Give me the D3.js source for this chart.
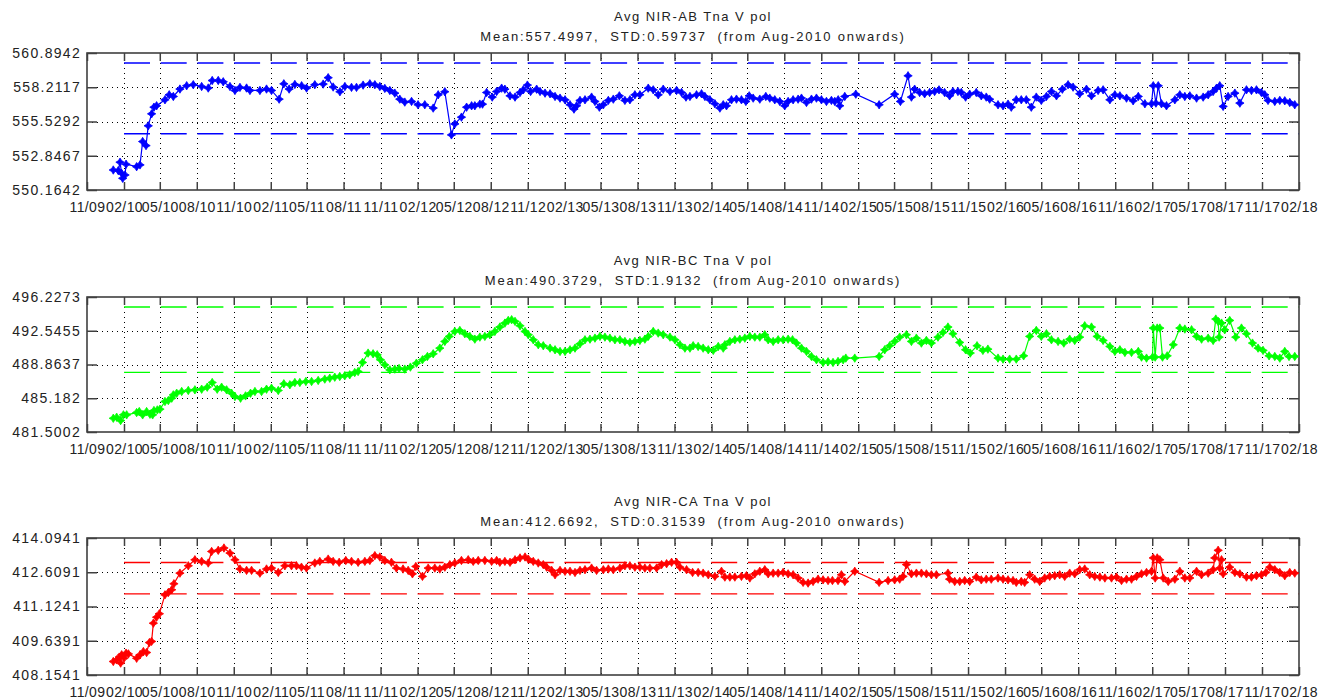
<!DOCTYPE html>
<html>
<head>
<meta charset="utf-8">
<script src="https://cdn.jsdelivr.net/npm/d3@7"></script>
<style>
  html, body { margin: 0; padding: 0; background: #fff; }
  svg { display: block; }
  text { font-family: "Liberation Sans", Arial, sans-serif; fill: #222; }
</style>
</head>
<body>
<svg id="chart" width="1336" height="700"></svg>
<script>
// ---- data (time as decimal year, value in counts) ----
const abSeries = [[2010.012,551.73],[2010.046,551.68],[2010.058,552.34],[2010.069,551.47],[2010.076,551.08],[2010.092,551.34],[2010.099,552.18],[2010.171,551.99],[2010.194,552.13],[2010.212,553.96],[2010.235,553.64],[2010.250,555.19],[2010.273,556.13],[2010.289,556.65],[2010.307,556.76],[2010.364,557.23],[2010.393,557.62],[2010.421,557.49],[2010.466,558.07],[2010.512,558.33],[2010.557,558.41],[2010.614,558.27],[2010.659,558.15],[2010.686,558.74],[2010.727,558.74],[2010.761,558.64],[2010.807,558.27],[2010.841,557.96],[2010.875,558.20],[2010.920,558.15],[2010.943,557.96],[2011.011,557.96],[2011.056,558.07],[2011.090,557.96],[2011.142,557.28],[2011.174,558.48],[2011.210,558.07],[2011.249,558.43],[2011.295,558.33],[2011.329,558.15],[2011.385,558.41],[2011.442,558.46],[2011.476,558.96],[2011.510,558.23],[2011.556,557.86],[2011.590,558.27],[2011.635,558.20],[2011.669,558.20],[2011.714,558.38],[2011.760,558.48],[2011.794,558.41],[2011.828,558.27],[2011.862,558.12],[2011.896,557.96],[2011.930,557.75],[2011.964,557.28],[2011.998,557.05],[2012.044,557.10],[2012.088,556.84],[2012.134,556.84],[2012.191,556.58],[2012.225,557.62],[2012.270,557.86],[2012.315,554.48],[2012.338,555.34],[2012.383,555.87],[2012.418,556.65],[2012.452,556.76],[2012.474,556.76],[2012.508,556.89],[2012.526,556.89],[2012.554,557.80],[2012.592,557.44],[2012.622,557.88],[2012.656,558.14],[2012.678,558.06],[2012.713,557.54],[2012.747,557.44],[2012.781,557.80],[2012.803,558.01],[2012.831,558.38],[2012.853,557.88],[2012.894,558.06],[2012.917,557.88],[2012.951,557.75],[2012.985,557.70],[2013.019,557.49],[2013.053,557.36],[2013.087,557.23],[2013.121,556.84],[2013.148,556.50],[2013.166,556.76],[2013.189,557.18],[2013.223,557.23],[2013.268,557.44],[2013.291,557.10],[2013.321,556.65],[2013.348,556.84],[2013.382,557.18],[2013.416,557.28],[2013.457,557.54],[2013.495,557.18],[2013.529,557.23],[2013.563,557.62],[2013.597,557.62],[2013.654,558.14],[2013.688,558.01],[2013.722,557.62],[2013.756,558.06],[2013.802,557.88],[2013.847,557.96],[2013.881,557.80],[2013.911,557.44],[2013.938,557.49],[2013.983,557.62],[2014.017,557.70],[2014.040,557.49],[2014.074,557.23],[2014.108,556.92],[2014.142,556.58],[2014.165,556.84],[2014.187,556.76],[2014.221,557.23],[2014.255,557.28],[2014.289,557.23],[2014.319,557.10],[2014.342,557.54],[2014.369,557.36],[2014.414,557.28],[2014.455,557.49],[2014.482,557.36],[2014.516,557.23],[2014.550,557.10],[2014.584,556.76],[2014.607,557.10],[2014.641,557.23],[2014.675,557.28],[2014.698,557.36],[2014.732,557.02],[2014.766,557.28],[2014.800,557.36],[2014.834,557.23],[2014.868,557.10],[2014.902,557.18],[2014.925,557.10],[2014.948,557.23],[2014.959,556.76],[2014.993,557.49],[2015.068,557.67],[2015.227,556.84],[2015.333,557.67],[2015.372,557.10],[2015.424,559.11],[2015.447,557.44],[2015.469,558.06],[2015.503,557.80],[2015.537,557.70],[2015.571,557.80],[2015.605,557.88],[2015.635,558.01],[2015.673,557.80],[2015.707,557.54],[2015.730,557.88],[2015.764,557.88],[2015.787,557.80],[2015.816,557.44],[2015.844,557.67],[2015.889,557.80],[2015.923,557.54],[2015.957,557.44],[2015.980,557.28],[2016.037,556.84],[2016.071,556.76],[2016.105,556.89],[2016.127,556.65],[2016.161,557.23],[2016.195,557.23],[2016.229,557.23],[2016.263,556.65],[2016.297,557.44],[2016.331,557.18],[2016.366,557.49],[2016.400,557.88],[2016.434,557.54],[2016.474,558.06],[2016.513,558.41],[2016.547,558.22],[2016.592,557.70],[2016.638,558.06],[2016.672,557.54],[2016.717,557.96],[2016.751,558.01],[2016.797,557.23],[2016.831,557.62],[2016.865,557.54],[2016.910,557.36],[2016.955,557.15],[2016.990,557.49],[2017.035,556.92],[2017.080,556.92],[2017.092,558.33],[2017.110,556.97],[2017.126,558.33],[2017.148,556.92],[2017.182,556.76],[2017.239,557.23],[2017.273,557.62],[2017.307,557.49],[2017.341,557.54],[2017.387,557.36],[2017.432,557.44],[2017.466,557.62],[2017.500,557.88],[2017.523,558.14],[2017.545,558.33],[2017.568,556.71],[2017.602,557.49],[2017.648,557.75],[2017.682,556.97],[2017.727,558.01],[2017.761,557.96],[2017.795,558.01],[2017.829,557.80],[2017.852,557.62],[2017.874,557.18],[2017.920,557.10],[2017.954,557.18],[2017.988,557.15],[2018.022,557.02],[2018.056,556.84]];

const bcSeries = [[2010.012,483.00],[2010.035,483.11],[2010.062,482.75],[2010.081,483.37],[2010.103,483.37],[2010.171,483.62],[2010.189,483.73],[2010.212,483.37],[2010.239,483.73],[2010.262,483.44],[2010.280,483.37],[2010.289,483.84],[2010.312,483.91],[2010.330,483.99],[2010.364,484.83],[2010.387,484.93],[2010.410,485.19],[2010.421,485.55],[2010.444,485.73],[2010.478,485.92],[2010.523,486.03],[2010.568,486.10],[2010.614,486.17],[2010.652,486.39],[2010.686,486.90],[2010.720,486.17],[2010.750,486.39],[2010.784,486.10],[2010.818,485.73],[2010.841,485.37],[2010.879,485.19],[2010.913,485.44],[2010.947,485.73],[2010.977,485.92],[2011.022,485.92],[2011.056,486.17],[2011.090,486.28],[2011.136,486.03],[2011.174,486.76],[2011.215,486.65],[2011.249,486.90],[2011.283,486.90],[2011.324,487.01],[2011.363,487.01],[2011.408,487.12],[2011.453,487.27],[2011.487,487.37],[2011.521,487.48],[2011.555,487.56],[2011.589,487.63],[2011.623,487.74],[2011.657,487.99],[2011.680,488.10],[2011.710,489.09],[2011.748,490.11],[2011.782,490.03],[2011.810,489.92],[2011.832,489.38],[2011.862,488.83],[2011.896,488.28],[2011.930,488.36],[2011.959,488.43],[2011.998,488.36],[2012.036,488.58],[2012.077,489.01],[2012.118,489.38],[2012.152,489.74],[2012.191,490.03],[2012.236,490.65],[2012.270,491.38],[2012.300,491.92],[2012.338,492.47],[2012.372,492.58],[2012.406,492.22],[2012.440,491.93],[2012.474,491.63],[2012.508,491.85],[2012.542,491.93],[2012.576,492.11],[2012.610,492.47],[2012.644,492.95],[2012.678,493.38],[2012.701,493.67],[2012.724,493.75],[2012.747,493.57],[2012.781,493.09],[2012.815,492.47],[2012.837,492.11],[2012.871,491.56],[2012.905,491.02],[2012.939,490.91],[2012.985,490.65],[2013.019,490.47],[2013.053,490.29],[2013.087,490.29],[2013.121,490.47],[2013.155,490.65],[2013.189,491.12],[2013.223,491.56],[2013.257,491.63],[2013.291,491.74],[2013.325,491.93],[2013.359,491.85],[2013.393,491.74],[2013.427,491.56],[2013.461,491.56],[2013.495,491.38],[2013.529,491.27],[2013.563,491.38],[2013.597,491.49],[2013.631,491.63],[2013.654,491.93],[2013.688,492.47],[2013.722,492.29],[2013.756,492.11],[2013.802,491.85],[2013.836,491.56],[2013.870,491.02],[2013.904,490.65],[2013.938,490.65],[2013.960,490.91],[2013.994,490.83],[2014.028,490.65],[2014.063,490.47],[2014.097,490.40],[2014.131,490.83],[2014.165,490.65],[2014.176,491.02],[2014.210,491.38],[2014.244,491.56],[2014.278,491.63],[2014.312,491.74],[2014.346,491.93],[2014.380,491.85],[2014.414,491.85],[2014.448,492.11],[2014.471,491.56],[2014.505,491.38],[2014.539,491.56],[2014.573,491.56],[2014.607,491.63],[2014.637,491.56],[2014.664,491.20],[2014.698,490.65],[2014.732,490.29],[2014.766,489.74],[2014.800,489.38],[2014.845,489.09],[2014.879,489.16],[2014.913,489.09],[2014.947,489.20],[2014.982,489.38],[2015.000,489.56],[2015.061,489.56],[2015.227,489.74],[2015.265,490.47],[2015.299,490.91],[2015.333,491.38],[2015.367,491.85],[2015.413,492.11],[2015.447,491.38],[2015.481,491.74],[2015.515,491.20],[2015.549,491.49],[2015.583,491.20],[2015.628,491.85],[2015.662,492.36],[2015.696,492.95],[2015.730,492.22],[2015.776,491.27],[2015.816,490.47],[2015.848,490.11],[2015.894,490.91],[2015.934,490.40],[2015.968,490.54],[2016.037,489.56],[2016.071,489.45],[2016.116,489.45],[2016.161,489.45],[2016.211,489.81],[2016.252,491.93],[2016.297,492.58],[2016.331,491.93],[2016.366,492.22],[2016.400,491.56],[2016.445,491.38],[2016.484,491.20],[2016.524,491.63],[2016.558,491.49],[2016.592,491.85],[2016.626,493.09],[2016.672,492.95],[2016.710,491.93],[2016.751,491.49],[2016.797,490.83],[2016.831,490.29],[2016.865,490.47],[2016.899,490.18],[2016.944,490.18],[2016.990,490.29],[2017.012,489.67],[2017.046,489.56],[2017.087,489.67],[2017.092,492.84],[2017.105,489.67],[2017.119,492.84],[2017.137,492.84],[2017.155,489.67],[2017.187,489.81],[2017.228,491.02],[2017.273,492.84],[2017.307,492.73],[2017.353,492.65],[2017.387,491.93],[2017.421,491.63],[2017.466,491.74],[2017.500,491.49],[2017.518,493.82],[2017.534,493.56],[2017.541,491.85],[2017.557,493.38],[2017.579,492.65],[2017.613,493.67],[2017.654,491.85],[2017.693,492.84],[2017.727,492.22],[2017.768,491.20],[2017.806,490.65],[2017.840,490.40],[2017.881,489.81],[2017.920,489.74],[2017.954,489.56],[2017.988,490.29],[2018.017,489.74],[2018.056,489.74]];

const caSeries = [[2010.012,408.74],[2010.035,408.81],[2010.053,408.93],[2010.062,408.67],[2010.069,409.03],[2010.085,408.88],[2010.099,409.10],[2010.115,409.07],[2010.171,408.88],[2010.194,409.03],[2010.217,409.17],[2010.239,409.13],[2010.258,409.56],[2010.273,409.61],[2010.285,410.40],[2010.307,410.66],[2010.326,410.81],[2010.364,411.63],[2010.387,411.73],[2010.410,411.85],[2010.425,412.11],[2010.466,412.57],[2010.523,412.89],[2010.568,413.15],[2010.614,413.08],[2010.659,413.01],[2010.682,413.51],[2010.727,413.56],[2010.766,413.66],[2010.807,413.44],[2010.841,413.15],[2010.875,412.75],[2010.920,412.69],[2010.954,412.69],[2011.011,412.57],[2011.056,412.75],[2011.090,412.79],[2011.136,412.60],[2011.181,412.89],[2011.226,412.89],[2011.260,412.89],[2011.294,412.83],[2011.328,412.79],[2011.385,413.01],[2011.419,413.08],[2011.476,413.18],[2011.510,413.08],[2011.551,413.04],[2011.596,413.12],[2011.635,413.08],[2011.680,413.04],[2011.726,413.08],[2011.760,413.12],[2011.794,413.33],[2011.828,413.27],[2011.862,413.12],[2011.907,413.04],[2011.941,412.79],[2011.986,412.75],[2012.021,412.69],[2012.050,412.54],[2012.073,412.86],[2012.118,412.43],[2012.157,412.79],[2012.202,412.79],[2012.236,412.75],[2012.270,412.83],[2012.304,412.94],[2012.338,413.01],[2012.383,413.12],[2012.429,413.15],[2012.463,413.08],[2012.497,413.12],[2012.542,413.12],[2012.588,413.08],[2012.622,413.12],[2012.644,413.04],[2012.678,413.08],[2012.713,413.04],[2012.747,413.15],[2012.781,413.23],[2012.815,413.27],[2012.837,413.18],[2012.871,413.08],[2012.905,413.01],[2012.939,412.94],[2012.962,412.83],[2012.996,412.69],[2013.019,412.50],[2013.053,412.69],[2013.087,412.65],[2013.121,412.65],[2013.155,412.60],[2013.189,412.69],[2013.223,412.72],[2013.268,412.79],[2013.302,412.69],[2013.348,412.72],[2013.382,412.75],[2013.416,412.72],[2013.461,412.79],[2013.495,412.89],[2013.529,412.89],[2013.563,412.83],[2013.597,412.83],[2013.631,412.79],[2013.665,412.79],[2013.711,412.79],[2013.745,412.94],[2013.779,412.98],[2013.813,413.04],[2013.847,413.04],[2013.870,412.83],[2013.915,412.72],[2013.956,412.60],[2013.994,412.60],[2014.028,412.57],[2014.063,412.50],[2014.108,412.43],[2014.153,412.65],[2014.176,412.40],[2014.210,412.40],[2014.244,412.40],[2014.289,412.43],[2014.323,412.46],[2014.346,412.36],[2014.380,412.54],[2014.414,412.65],[2014.448,412.72],[2014.471,412.54],[2014.505,412.57],[2014.539,412.57],[2014.573,412.60],[2014.607,412.54],[2014.641,412.50],[2014.675,412.36],[2014.709,412.17],[2014.743,412.14],[2014.777,412.21],[2014.811,412.31],[2014.845,412.28],[2014.879,412.25],[2014.909,412.25],[2014.947,412.25],[2014.970,412.50],[2014.993,412.21],[2015.061,412.65],[2015.227,412.17],[2015.288,412.25],[2015.333,412.28],[2015.367,412.31],[2015.390,412.43],[2015.413,412.94],[2015.447,412.54],[2015.481,412.57],[2015.515,412.57],[2015.549,412.54],[2015.583,412.50],[2015.617,412.50],[2015.696,412.57],[2015.707,412.31],[2015.742,412.21],[2015.776,412.21],[2015.810,412.25],[2015.844,412.21],[2015.889,412.40],[2015.923,412.28],[2015.957,412.31],[2015.991,412.31],[2016.037,412.36],[2016.071,412.31],[2016.105,412.28],[2016.139,412.25],[2016.161,412.17],[2016.195,412.21],[2016.218,412.17],[2016.252,412.50],[2016.286,412.31],[2016.320,412.21],[2016.354,412.36],[2016.388,412.43],[2016.422,412.46],[2016.456,412.50],[2016.490,412.43],[2016.524,412.57],[2016.558,412.54],[2016.592,412.72],[2016.626,412.75],[2016.660,412.50],[2016.694,412.43],[2016.729,412.40],[2016.763,412.36],[2016.808,412.36],[2016.842,412.40],[2016.876,412.25],[2016.910,412.31],[2016.944,412.31],[2016.978,412.43],[2017.012,412.54],[2017.046,412.60],[2017.080,412.65],[2017.092,413.23],[2017.105,412.36],[2017.119,413.23],[2017.137,413.15],[2017.160,412.36],[2017.194,412.21],[2017.239,412.31],[2017.273,412.65],[2017.307,412.36],[2017.341,412.36],[2017.387,412.65],[2017.421,412.50],[2017.466,412.57],[2017.500,412.72],[2017.511,413.23],[2017.534,413.56],[2017.545,412.79],[2017.557,413.15],[2017.568,412.54],[2017.613,412.83],[2017.648,412.60],[2017.682,412.54],[2017.727,412.40],[2017.761,412.40],[2017.795,412.46],[2017.829,412.50],[2017.859,412.60],[2017.886,412.83],[2017.920,412.72],[2017.954,412.60],[2017.988,412.46],[2018.022,412.60],[2018.056,412.57]];

// y tick values per panel (axis limits are first and last)
const abTicks = [550.1642, 552.8467, 555.5292, 558.2117, 560.8942];
const bcTicks = [481.5002, 485.182, 488.8637, 492.5455, 496.2273];
const caTicks = [408.1541, 409.6391, 411.1241, 412.6091, 414.0941];

// dashed control limits [lower, upper], drawn from limitFrom onwards
const abLimits = [554.57, 560.11];
const bcLimits = [488.01, 495.14];
const caLimits = [411.67, 413.03];
const limitFrom = 2010.085;

const titles = ["Avg NIR-AB Tna V pol", "Avg NIR-BC Tna V pol", "Avg NIR-CA Tna V pol"];
const subtitles = [
  "Mean:557.4997,  STD:0.59737  (from Aug-2010 onwards)",
  "Mean:490.3729,  STD:1.9132  (from Aug-2010 onwards)",
  "Mean:412.6692,  STD:0.31539  (from Aug-2010 onwards)"
];
const colors = ["#0000ff", "#00ff00", "#ff0000"];

// x range: Nov 2009 .. Feb 2018, quarterly ticks
const xStart = new Date(2009, 10, 1), xEnd = new Date(2018, 1, 1);

// ---- helpers ----
function toDate(t) {
  const y = Math.floor(t);
  const s = new Date(y, 0, 1), e = new Date(y + 1, 0, 1);
  return new Date(+s + (t - y) * (e - s));
}

const svg = d3.select("#chart");
const left = 87, right = 1299;
const tops = [53, 297, 538];
const heights = [137, 135, 137];

const x = d3.scaleTime().domain([xStart, xEnd]).range([left, right]);
const xTicks = d3.timeMonth.range(xStart, new Date(2018, 1, 2), 3);
const fmtX = d3.timeFormat("%m/%y");
const fmtY = d3.format(".7~g");

const panels = [
  { series: abSeries, ticks: abTicks, limits: abLimits },
  { series: bcSeries, ticks: bcTicks, limits: bcLimits },
  { series: caSeries, ticks: caTicks, limits: caLimits }
];

// four-pointed star marker
const starPath = "M0,-4.2L1.6,-1.6L4.2,0L1.6,1.6L0,4.2L-1.6,1.6L-4.2,0L-1.6,-1.6Z";
const axisColor = "#404040";

panels.forEach((p, i) => {
  const top = tops[i], h = heights[i], bottom = top + h;
  const col = colors[i];
  const y = d3.scaleLinear().domain([p.ticks[0], p.ticks[p.ticks.length - 1]]).range([bottom, top]);
  const g = svg.append("g");

  // titles
  g.append("text").attr("x", (left + right) / 2).attr("y", top - 32)
    .attr("text-anchor", "middle").style("font-size", "13px").style("letter-spacing", "1.45px")
    .text(titles[i]);
  g.append("text").attr("x", (left + right) / 2).attr("y", top - 12)
    .attr("text-anchor", "middle").style("font-size", "13px").style("letter-spacing", "1.8px")
    .style("white-space", "pre")
    .text(subtitles[i]);

  // dotted grid
  const grid = g.append("g").attr("stroke", "#000").attr("stroke-width", 1)
    .attr("stroke-dasharray", "1,4").attr("fill", "none");
  grid.selectAll(".vg").data(xTicks.slice(1, -1)).join("line")
    .attr("x1", d => Math.round(x(d)) + 0.5).attr("x2", d => Math.round(x(d)) + 0.5)
    .attr("y1", top).attr("y2", bottom);
  grid.selectAll(".hg").data(p.ticks.slice(1, -1)).join("line")
    .attr("x1", left).attr("x2", right)
    .attr("y1", d => Math.round(y(d)) + 0.5).attr("y2", d => Math.round(y(d)) + 0.5);

  // dashed limits
  g.selectAll(".lim").data(p.limits).join("line")
    .attr("x1", x(toDate(limitFrom))).attr("x2", right)
    .attr("y1", d => y(d)).attr("y2", d => y(d))
    .attr("stroke", col).attr("stroke-width", 1.4).attr("stroke-dasharray", "26,10.7");

  // axes
  const axB = g.append("g").attr("transform", `translate(0,${bottom})`)
    .call(d3.axisBottom(x).tickValues(xTicks).tickFormat(fmtX).tickSizeInner(-8).tickSizeOuter(0).tickPadding(12));
  const axT = g.append("g").attr("transform", `translate(0,${top})`)
    .call(d3.axisTop(x).tickValues(xTicks).tickFormat("").tickSizeInner(-8).tickSizeOuter(0));
  const axL = g.append("g").attr("transform", `translate(${left},0)`)
    .call(d3.axisLeft(y).tickValues(p.ticks).tickFormat(fmtY).tickSizeInner(-10).tickSizeOuter(0).tickPadding(6));
  const axR = g.append("g").attr("transform", `translate(${right},0)`)
    .call(d3.axisRight(y).tickValues(p.ticks).tickFormat("").tickSizeInner(-10).tickSizeOuter(0));
  [axB, axT, axL, axR].forEach(a => {
    a.select(".domain").remove();
    a.selectAll(".tick line").attr("stroke", axisColor).attr("stroke-width", 1.5);
    a.selectAll("text").attr("fill", "#222").attr("font-family", null)
      .style("font-family", "'Liberation Sans', Arial, sans-serif");
  });
  axB.selectAll("text").style("font-size", "14px").style("letter-spacing", "0.4px");
  axL.selectAll("text").style("font-size", "14px").style("letter-spacing", "1.3px");

  // frame
  g.append("rect").attr("x", left).attr("y", top).attr("width", right - left).attr("height", h)
    .attr("fill", "none").attr("stroke", axisColor).attr("stroke-width", 1.6);

  // series line + markers
  const pts = p.series.map(d => [toDate(d[0]), d[1]]);
  const line = d3.line().x(d => x(d[0])).y(d => y(d[1]));
  g.append("path").datum(pts).attr("d", line)
    .attr("fill", "none").attr("stroke", col).attr("stroke-width", 1.2);
  g.selectAll(".mk").data(pts).join("path")
    .attr("d", starPath)
    .attr("transform", d => `translate(${x(d[0])},${y(d[1])})`)
    .attr("fill", col).attr("stroke", col).attr("stroke-width", 0.8);
});
</script>
</body>
</html>
